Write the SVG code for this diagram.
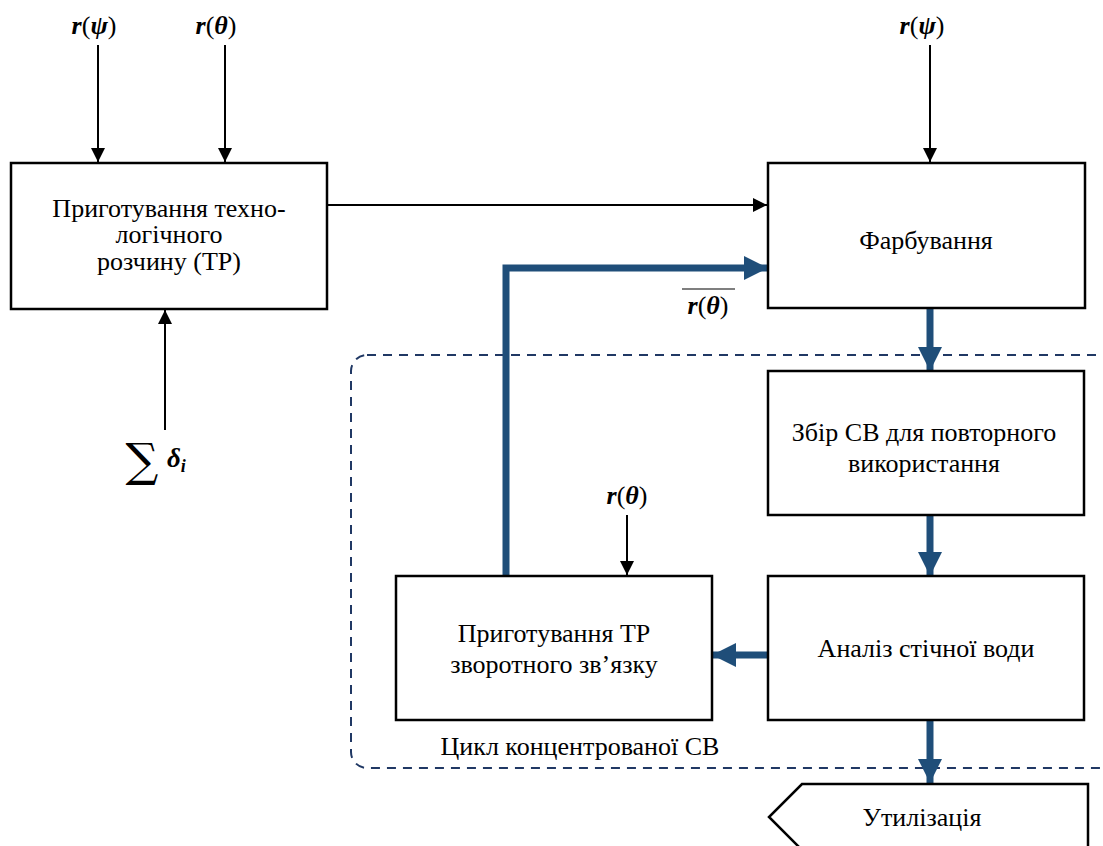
<svg xmlns="http://www.w3.org/2000/svg" width="1103" height="846" viewBox="0 0 1103 846">
<style>
.box{fill:#fff;stroke:#000;stroke-width:2.5}
.t{font-family:'Liberation Serif',serif;font-size:26px;fill:#000;text-anchor:middle}
.mi{font-weight:bold;font-style:italic}
.thin{stroke:#000;stroke-width:2;fill:none}
.thick{stroke:#1F4E79;stroke-width:7;fill:none}
</style>
<defs>
<marker id="ah" markerWidth="14" markerHeight="14" refX="14" refY="7" orient="auto" markerUnits="userSpaceOnUse" viewBox="0 0 14 14"><path d="M0,0 L14,7 L0,14 Z" fill="#000"/></marker>
<marker id="bh" markerWidth="24" markerHeight="24" refX="24" refY="12" orient="auto" markerUnits="userSpaceOnUse" viewBox="0 0 24 24"><path d="M0,0 L24,12 L0,24 Z" fill="#1F4E79"/></marker>
</defs>
<g id="cycle">
<rect x="351" y="355" width="775" height="413" rx="16" fill="none" stroke="#203864" stroke-width="2" stroke-dasharray="9,7"/>
<text class="t" x="580" y="755">Цикл концентрованої СВ</text>
</g>
<g id="connectors">
<line class="thin" x1="98" y1="45" x2="98" y2="162" marker-end="url(#ah)"/>
<line class="thin" x1="225" y1="45" x2="225" y2="162" marker-end="url(#ah)"/>
<line class="thin" x1="930" y1="45" x2="930" y2="162" marker-end="url(#ah)"/>
<line class="thin" x1="165" y1="430" x2="165" y2="310" marker-end="url(#ah)"/>
<line class="thin" x1="327" y1="205" x2="767" y2="205" marker-end="url(#ah)"/>
<line class="thin" x1="627" y1="515" x2="627" y2="575" marker-end="url(#ah)"/>
<path class="thick" d="M506,576 L506,268 L768,268" marker-end="url(#bh)"/>
<line class="thick" x1="930" y1="309" x2="930" y2="371" marker-end="url(#bh)"/>
<line class="thick" x1="930" y1="515" x2="930" y2="576" marker-end="url(#bh)"/>
<line class="thick" x1="768" y1="655" x2="712" y2="655" marker-end="url(#bh)"/>
<line class="thick" x1="930" y1="720" x2="930" y2="783" marker-end="url(#bh)"/>
</g>
<g id="labels">
<text class="t" x="94" y="34"><tspan class="mi">r</tspan>(<tspan class="mi">ψ</tspan>)</text>
<text class="t" x="216" y="34"><tspan class="mi">r</tspan>(<tspan class="mi">θ</tspan>)</text>
<text class="t" x="922" y="34"><tspan class="mi">r</tspan>(<tspan class="mi">ψ</tspan>)</text>
<text class="t" x="627" y="504"><tspan class="mi">r</tspan>(<tspan class="mi">θ</tspan>)</text>
<text class="t" x="708" y="314"><tspan class="mi">r</tspan>(<tspan class="mi">θ</tspan>)</text>
<line x1="682" y1="289" x2="735" y2="289" stroke="#000" stroke-width="1.2"/>
<text x="142" y="476" font-family="DejaVu Serif, serif" font-size="46" text-anchor="middle">∑</text>
<text x="167" y="467" font-family="Liberation Serif, serif" font-size="27" font-weight="bold" font-style="italic">δ<tspan font-size="18" dy="5">i</tspan></text>
</g>
<g id="n-prep">
<rect class="box" x="11" y="163" width="316" height="146"/>
<text class="t" x="169" y="217">Приготування техно-</text>
<text class="t" x="169" y="243">логічного</text>
<text class="t" x="169" y="270">розчину (ТР)</text>
</g>
<g id="n-dye">
<rect class="box" x="768" y="163" width="317" height="145"/>
<text class="t" x="926" y="249">Фарбування</text>
</g>
<g id="n-collect">
<rect class="box" x="768" y="371" width="316" height="144"/>
<text class="t" x="924" y="441">Збір СВ для повторного</text>
<text class="t" x="924" y="472">використання</text>
</g>
<g id="n-analysis">
<rect class="box" x="768" y="576" width="316" height="144"/>
<text class="t" x="926" y="657">Аналіз стічної води</text>
</g>
<g id="n-feedback">
<rect class="box" x="396" y="576" width="316" height="144"/>
<text class="t" x="554" y="642">Приготування ТР</text>
<text class="t" x="554" y="673">зворотного зв’язку</text>
</g>
<g id="n-util">
<path class="box" d="M1088,860 L1088,784 L802,784 L769,817 L802,850"/>
<text class="t" x="922" y="826">Утилізація</text>
</g>
</svg>
